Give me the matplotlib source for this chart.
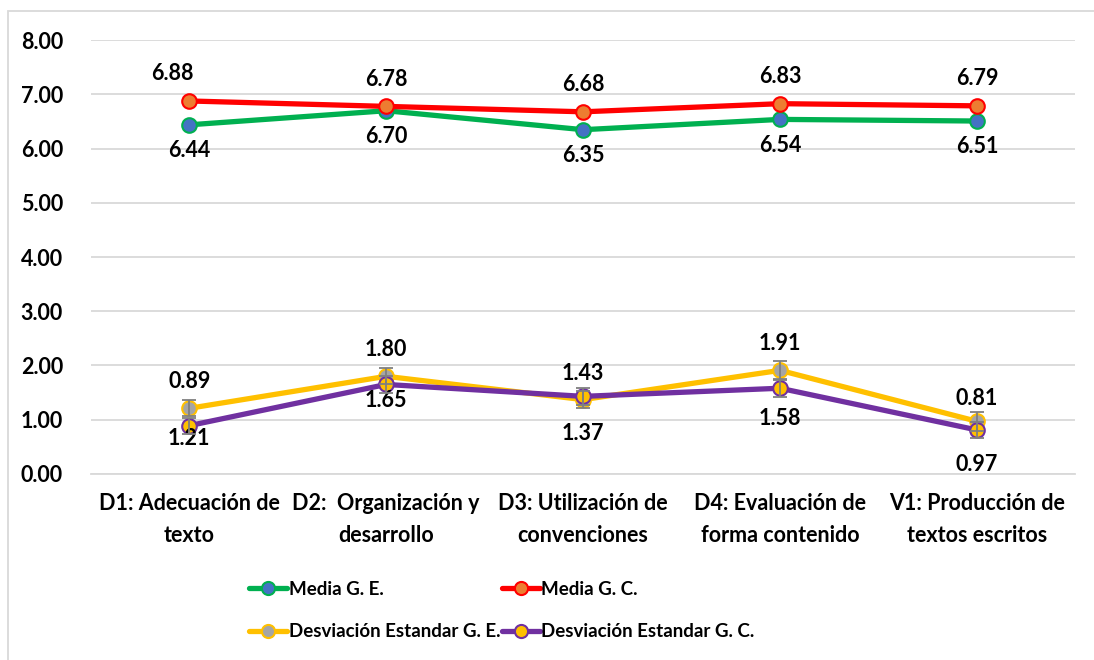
import numpy as np
import matplotlib.pyplot as plt
from matplotlib.patches import Rectangle

plt.rcParams['font.family'] = ['Lato', 'DejaVu Sans']
plt.rcParams['font.weight'] = 'bold'

# Data
categories = ["D1: Adecuación de\ntexto", "D2:  Organización y\ndesarrollo",
              "D3: Utilización de\nconvenciones", "D4: Evaluación de\nforma contenido",
              "V1: Producción de\ntextos escritos"]
media_ge = [6.44, 6.70, 6.35, 6.54, 6.51]
media_gc = [6.88, 6.78, 6.68, 6.83, 6.79]
desv_ge = [1.21, 1.80, 1.37, 1.91, 0.97]
desv_gc = [0.89, 1.65, 1.43, 1.58, 0.81]
err_ge = [0.15, 0.15, 0.15, 0.17, 0.17]
err_gc = [0.15, 0.15, 0.15, 0.17, 0.15]
# labels as printed on the original (upper / lower around the low pair)
low_upper_labels = ["0.89", "1.80", "1.43", "1.91", "0.81"]
low_lower_labels = ["1.21", "1.65", "1.37", "1.58", "0.97"]
yticks = np.arange(0, 9, 1)

fig = plt.figure(figsize=(10.94, 6.60), dpi=100)
ax = fig.add_axes([0.083, 0.282, 0.9, 0.657])

x = np.arange(len(categories))
lw = 3.8
ms = 10.5

series = [
    ("Media G. E.", media_ge, "#00B050", "#4472C4", None),
    ("Media G. C.", media_gc, "#FF0000", "#ED7D31", None),
    ("Desviación Estandar G. E.", desv_ge, "#FFC000", "#A5A5A5", err_ge),
    ("Desviación Estandar G. C.", desv_gc, "#7030A0", "#FFC000", err_gc),
]
handles = []
for name, vals, lc, fc, err in series:
    if err is not None:
        ax.errorbar(x, vals, yerr=err, fmt="none", ecolor="#7F7F7F",
                    elinewidth=1.3, capsize=5, capthick=1.3, zorder=4)
    h, = ax.plot(x, vals, color=lc, lw=lw, marker="o", ms=ms,
                 markerfacecolor=fc, markeredgecolor=lc, markeredgewidth=1.5,
                 label=name, zorder=3, solid_capstyle="round")
    handles.append(h)

fs = 15.5
# upper pair labels (first red label sits a bit to the left in the original)
gc_dx = [-12, 0, 0, 0, 0]
for i in x:
    ax.annotate(f"{media_gc[i]:.2f}", (i, media_gc[i]), xytext=(gc_dx[i], 12),
                textcoords="offset points", ha="center", va="bottom", fontsize=fs)
    ax.annotate(f"{media_ge[i]:.2f}", (i, media_ge[i]), xytext=(0, -11),
                textcoords="offset points", ha="center", va="top", fontsize=fs)

up_off = [12, 12, 9, 12, 9]
lo_off = [-2, -4, -17, -14, -17]
for i in x:
    hi = max(desv_ge[i], desv_gc[i])
    lo = min(desv_ge[i], desv_gc[i])
    ax.annotate(low_upper_labels[i], (i, hi), xytext=(0, up_off[i]),
                textcoords="offset points", ha="center", va="bottom", fontsize=fs)
    ax.annotate(low_lower_labels[i], (i, lo), xytext=(0, lo_off[i]),
                textcoords="offset points", ha="center", va="top", fontsize=fs)

ax.set_xlim(-0.5, len(categories) - 0.5)
ax.set_ylim(0, 8)
ax.set_yticks(yticks)
ax.set_yticklabels([f"{v:.2f}" for v in yticks], fontsize=fs)
ax.set_xticks(x)
ax.set_xticklabels(categories, fontsize=fs, linespacing=1.6)
ax.tick_params(axis="both", length=0)
ax.tick_params(axis="y", pad=20)
ax.tick_params(axis="x", pad=14)
ax.grid(axis="y", color="#D9D9D9", lw=1.3)
ax.set_axisbelow(True)
for s in ["top", "right", "left"]:
    ax.spines[s].set_visible(False)
ax.spines["bottom"].set_color("#D9D9D9")
ax.spines["bottom"].set_linewidth(1.3)

# legend fills row by row in the original
order = [0, 2, 1, 3]
fig.legend(handles=[handles[k] for k in order], loc="upper left",
           bbox_to_anchor=(0.221, 0.131),
           ncol=2, frameon=False, fontsize=13.5, handlelength=2.0,
           handletextpad=0.1, columnspacing=0.1, labelspacing=1.35,
           borderaxespad=0, markerscale=0.9)

# outer chart frame
fig.patches.append(Rectangle((8 / 1094, -0.1), 1.2, 1 - 11 / 660 + 0.1,
                             transform=fig.transFigure, fill=False,
                             edgecolor="#D9D9D9", lw=1.3, zorder=0))

fig.savefig("out.png", dpi=100)
